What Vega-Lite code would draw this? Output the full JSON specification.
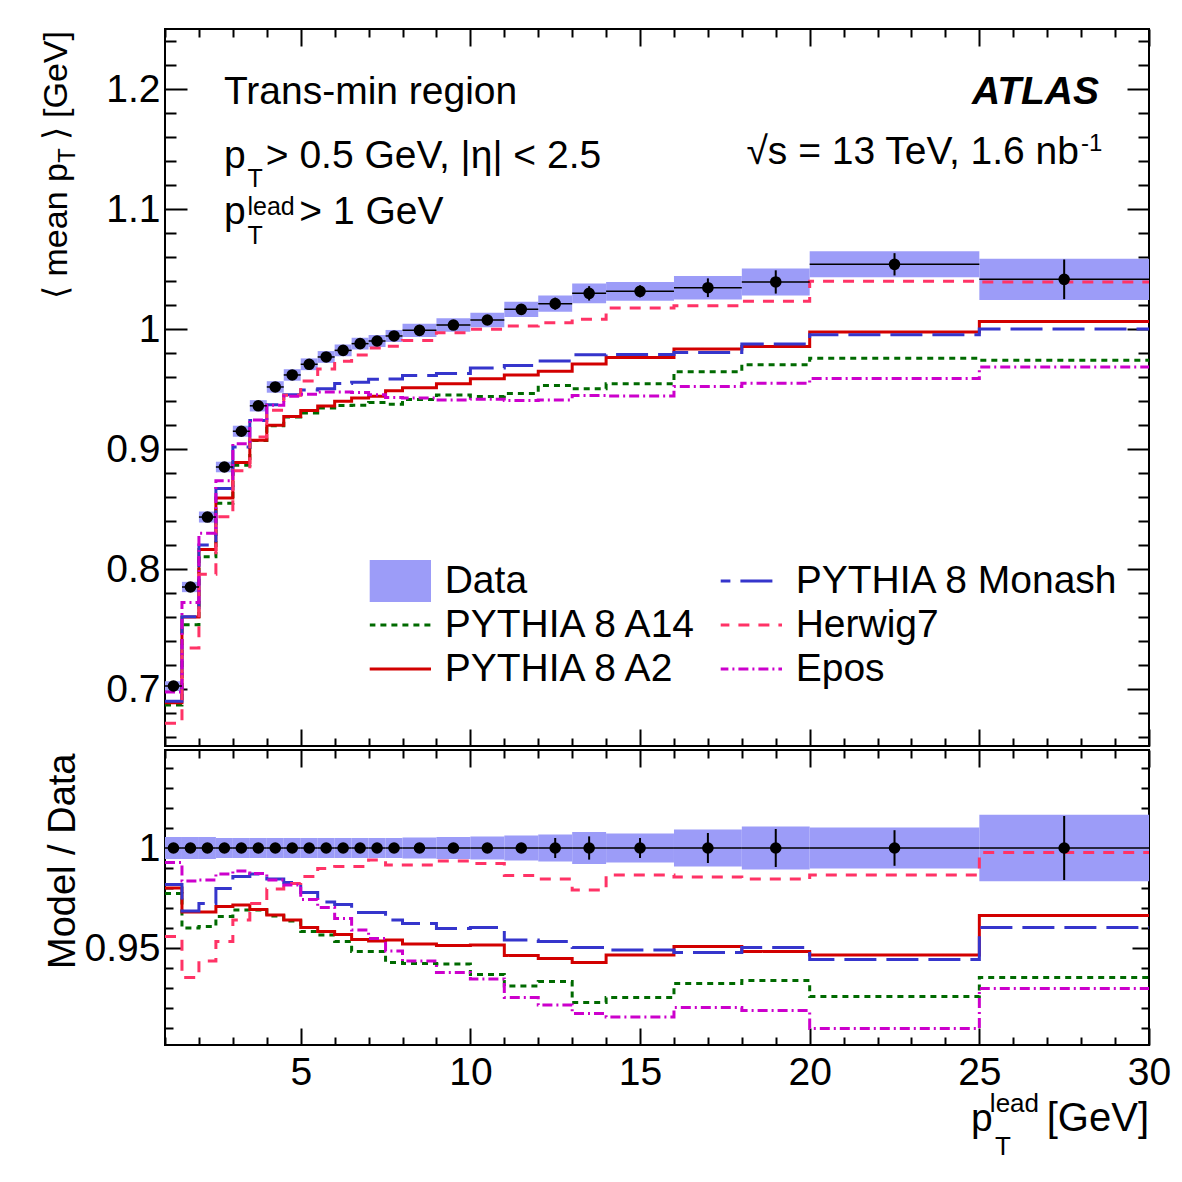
{
  "$schema": "https://vega.github.io/schema/vega-lite/v6.json",
  "background": "white",
  "padding": {"left": 38, "top": 27, "right": 5, "bottom": 5},
  "spacing": 0,
  "config": {
    "font": "Liberation Sans",
    "view": {"stroke": "black", "strokeWidth": 2},
    "axis": {
      "labelFont": "Liberation Sans", "labelFontSize": 39, "labelColor": "black",
      "tickColor": "black", "tickWidth": 2, "domain": false, "grid": false,
      "labelOverlap": false, "labelFlush": false, "labelBound": false,
      "titleFont": "Liberation Sans", "titleFontSize": 38, "titleFontWeight": "normal", "titleColor": "black"
    },
    "text": {"color": "black", "font": "Liberation Sans"}
  },
  "datasets": {
    "bins": [
      {"lo":1,"hi":1.5,"x":1.25,"v":0.7025,"blo":0.6985,"bhi":0.7065,"st":0.001,"r":1,"rblo":0.9945,"rbhi":1.0055,"rst":0.001,"a14":0.6866,"a2":0.6885,"mon":0.6897,"hw":0.6714,"epos":0.6974,"ra14":0.9773,"ra2":0.980,"rmon":0.9818,"rhw":0.9557,"repos":0.9928},
      {"lo":1.5,"hi":2,"x":1.75,"v":0.785,"blo":0.7807,"bhi":0.7893,"st":0.001,"r":1,"rblo":0.9945,"rbhi":1.0055,"rst":0.001,"a14":0.7536,"a2":0.7599,"mon":0.7603,"hw":0.7342,"epos":0.7720,"ra14":0.960,"ra2":0.968,"rmon":0.9685,"rhw":0.9353,"repos":0.9835},
      {"lo":2,"hi":2.5,"x":2.25,"v":0.8433,"blo":0.8387,"bhi":0.8479,"st":0.001,"r":1,"rblo":0.9945,"rbhi":1.0055,"rst":0.001,"a14":0.8102,"a2":0.8163,"mon":0.8199,"hw":0.7957,"epos":0.8298,"ra14":0.9608,"ra2":0.968,"rmon":0.9723,"rhw":0.9435,"repos":0.984},
      {"lo":2.5,"hi":3,"x":2.75,"v":0.885,"blo":0.8806,"bhi":0.8894,"st":0.001,"r":1,"rblo":0.995,"rbhi":1.005,"rst":0.001,"a14":0.8547,"a2":0.8591,"mon":0.8671,"hw":0.8436,"epos":0.8735,"ra14":0.9658,"ra2":0.9707,"rmon":0.9798,"rhw":0.9532,"repos":0.987},
      {"lo":3,"hi":3.5,"x":3.25,"v":0.9148,"blo":0.9102,"bhi":0.9194,"st":0.001,"r":1,"rblo":0.995,"rbhi":1.005,"rst":0.001,"a14":0.8864,"a2":0.8887,"mon":0.9017,"hw":0.8819,"epos":0.9043,"ra14":0.969,"ra2":0.9715,"rmon":0.9857,"rhw":0.964,"repos":0.9885},
      {"lo":3.5,"hi":4,"x":3.75,"v":0.936,"blo":0.9313,"bhi":0.9407,"st":0.001,"r":1,"rblo":0.995,"rbhi":1.005,"rst":0.001,"a14":0.9070,"a2":0.9073,"mon":0.9238,"hw":0.9101,"epos":0.9241,"ra14":0.969,"ra2":0.9693,"rmon":0.987,"rhw":0.9723,"repos":0.9873},
      {"lo":4,"hi":4.5,"x":4.25,"v":0.9517,"blo":0.9469,"bhi":0.9565,"st":0.001,"r":1,"rblo":0.995,"rbhi":1.005,"rst":0.001,"a14":0.9193,"a2":0.9198,"mon":0.9369,"hw":0.9322,"epos":0.9365,"ra14":0.966,"ra2":0.9665,"rmon":0.9845,"rhw":0.9795,"repos":0.984},
      {"lo":4.5,"hi":5,"x":4.75,"v":0.9617,"blo":0.9569,"bhi":0.9665,"st":0.001,"r":1,"rblo":0.995,"rbhi":1.005,"rst":0.001,"a14":0.9266,"a2":0.9271,"mon":0.9452,"hw":0.9447,"epos":0.9439,"ra14":0.9635,"ra2":0.964,"rmon":0.9828,"rhw":0.9823,"repos":0.9815},
      {"lo":5,"hi":5.5,"x":5.25,"v":0.9706,"blo":0.9657,"bhi":0.9755,"st":0.001,"r":1,"rblo":0.995,"rbhi":1.005,"rst":0.001,"a14":0.9300,"a2":0.9320,"mon":0.9491,"hw":0.9567,"epos":0.9457,"ra14":0.9582,"ra2":0.9602,"rmon":0.9778,"rhw":0.9857,"repos":0.9743},
      {"lo":5.5,"hi":6,"x":5.75,"v":0.9767,"blo":0.9718,"bhi":0.9816,"st":0.001,"r":1,"rblo":0.995,"rbhi":1.005,"rst":0.001,"a14":0.9342,"a2":0.9359,"mon":0.9503,"hw":0.9667,"epos":0.9476,"ra14":0.9565,"ra2":0.9582,"rmon":0.973,"rhw":0.9898,"repos":0.9702},
      {"lo":6,"hi":6.5,"x":6.25,"v":0.9822,"blo":0.9773,"bhi":0.9871,"st":0.001,"r":1,"rblo":0.995,"rbhi":1.005,"rst":0.001,"a14":0.9362,"a2":0.9398,"mon":0.9545,"hw":0.9731,"epos":0.9476,"ra14":0.9532,"ra2":0.9568,"rmon":0.9718,"rhw":0.9907,"repos":0.9648},
      {"lo":6.5,"hi":7,"x":6.75,"v":0.9878,"blo":0.9829,"bhi":0.9927,"st":0.001,"r":1,"rblo":0.995,"rbhi":1.005,"rst":0.001,"a14":0.9364,"a2":0.9424,"mon":0.9557,"hw":0.9783,"epos":0.9470,"ra14":0.9482,"ra2":0.9543,"rmon":0.9678,"rhw":0.9907,"repos":0.959},
      {"lo":7,"hi":7.5,"x":7.25,"v":0.990,"blo":0.985,"bhi":0.995,"st":0.001,"r":1,"rblo":0.995,"rbhi":1.005,"rst":0.001,"a14":0.9387,"a2":0.9440,"mon":0.9581,"hw":0.9841,"epos":0.9453,"ra14":0.9482,"ra2":0.9535,"rmon":0.9678,"rhw":0.994,"repos":0.9548},
      {"lo":7.5,"hi":8,"x":7.75,"v":0.9942,"blo":0.9892,"bhi":0.9992,"st":0.001,"r":1,"rblo":0.995,"rbhi":1.005,"rst":0.001,"a14":0.9373,"a2":0.9485,"mon":0.9584,"hw":0.9857,"epos":0.9430,"ra14":0.9428,"ra2":0.954,"rmon":0.964,"rhw":0.9915,"repos":0.9485},
      {"lo":8,"hi":9,"x":8.5,"v":0.9989,"blo":0.9934,"bhi":1.0044,"st":0.001,"r":1,"rblo":0.9947,"rbhi":1.0053,"rst":0.001,"a14":0.9413,"a2":0.9510,"mon":0.9612,"hw":0.9904,"epos":0.9425,"ra14":0.9423,"ra2":0.952,"rmon":0.9623,"rhw":0.9915,"repos":0.9435},
      {"lo":9,"hi":10,"x":9.5,"v":1.0033,"blo":0.9977,"bhi":1.0089,"st":0.001,"r":1,"rblo":0.9945,"rbhi":1.0055,"rst":0.001,"a14":0.9451,"a2":0.9543,"mon":0.9630,"hw":0.9968,"epos":0.9408,"ra14":0.942,"ra2":0.9512,"rmon":0.9598,"rhw":0.9935,"repos":0.9377},
      {"lo":10,"hi":11,"x":10.5,"v":1.0075,"blo":1.0015,"bhi":1.0135,"st":0.0015,"r":1,"rblo":0.9942,"rbhi":1.0058,"rst":0.0015,"a14":0.9438,"a2":0.9586,"mon":0.9675,"hw":0.9997,"epos":0.9415,"ra14":0.9368,"ra2":0.9515,"rmon":0.9603,"rhw":0.9923,"repos":0.9345},
      {"lo":11,"hi":12,"x":11.5,"v":1.0164,"blo":1.0100,"bhi":1.0228,"st":0.0025,"r":1,"rblo":0.9937,"rbhi":1.0063,"rst":0.0025,"a14":0.9463,"a2":0.9617,"mon":0.9696,"hw":1.0024,"epos":0.9404,"ra14":0.931,"ra2":0.9462,"rmon":0.954,"rhw":0.9862,"repos":0.9252},
      {"lo":12,"hi":13,"x":12.5,"v":1.0211,"blo":1.0143,"bhi":1.0279,"st":0.005,"r":1,"rblo":0.9933,"rbhi":1.0067,"rst":0.005,"a14":0.9529,"a2":0.9647,"mon":0.9733,"hw":1.0053,"epos":0.9409,"ra14":0.9332,"ra2":0.9448,"rmon":0.9532,"rhw":0.9845,"repos":0.9215},
      {"lo":13,"hi":14,"x":13.5,"v":1.0297,"blo":1.0214,"bhi":1.0380,"st":0.006,"r":1,"rblo":0.992,"rbhi":1.008,"rst":0.0058,"a14":0.9502,"a2":0.9708,"mon":0.9785,"hw":1.0081,"epos":0.9445,"ra14":0.9228,"ra2":0.9428,"rmon":0.9503,"rhw":0.979,"repos":0.9173},
      {"lo":14,"hi":16,"x":15,"v":1.0314,"blo":1.0236,"bhi":1.0392,"st":0.005,"r":1,"rblo":0.9927,"rbhi":1.0073,"rst":0.005,"a14":0.9544,"a2":0.9762,"mon":0.9788,"hw":1.0175,"epos":0.9442,"ra14":0.9253,"ra2":0.9465,"rmon":0.949,"rhw":0.9865,"repos":0.9155},
      {"lo":16,"hi":18,"x":17,"v":1.0344,"blo":1.0246,"bhi":1.0442,"st":0.0078,"r":1,"rblo":0.9908,"rbhi":1.0092,"rst":0.0075,"a14":0.9644,"a2":0.9834,"mon":0.9804,"hw":1.0194,"epos":0.9520,"ra14":0.9323,"ra2":0.9507,"rmon":0.9478,"rhw":0.9855,"repos":0.9203},
      {"lo":18,"hi":20,"x":19,"v":1.0392,"blo":1.0280,"bhi":1.0504,"st":0.0097,"r":1,"rblo":0.9893,"rbhi":1.0107,"rst":0.0095,"a14":0.9703,"a2":0.9854,"mon":0.9874,"hw":1.0231,"epos":0.9547,"ra14":0.9337,"ra2":0.9482,"rmon":0.9502,"rhw":0.9845,"repos":0.9187},
      {"lo":20,"hi":25,"x":22.5,"v":1.0539,"blo":1.0431,"bhi":1.0647,"st":0.0093,"r":1,"rblo":0.9897,"rbhi":1.0103,"rst":0.0089,"a14":0.9756,"a2":0.9975,"mon":0.9952,"hw":1.0397,"epos":0.9588,"ra14":0.9257,"ra2":0.9465,"rmon":0.9443,"rhw":0.9865,"repos":0.9098},
      {"lo":25,"hi":30,"x":27.5,"v":1.0414,"blo":1.0242,"bhi":1.0586,"st":0.0165,"r":1,"rblo":0.9834,"rbhi":1.0166,"rst":0.016,"a14":0.9740,"a2":1.0062,"mon":1.0001,"hw":1.0391,"epos":0.9683,"ra14":0.9353,"ra2":0.9662,"rmon":0.9603,"rhw":0.9978,"repos":0.9298}
    ]
  },
  "resolve": {"scale": {"color": "independent", "strokeDash": "independent"}},
  "vconcat": [
    {
      "width": 984,
      "height": 717,
      "data": {"name": "bins"},
      "resolve": {"axis": {"x": "independent", "y": "independent"}},
      "layer": [
        {
          "mark": {"type": "rect", "color": "#9c9cf8"},
          "encoding": {
            "x": {"field": "lo", "type": "quantitative",
              "scale": {"domain": [1, 30], "nice": false, "zero": false},
              "axis": {"orient": "bottom", "title": null, "labels": false,
                "values": [1,2,3,4,5,6,7,8,9,10,11,12,13,14,15,16,17,18,19,20,21,22,23,24,25,26,27,28,29,30],
                "tickSize": {"condition": {"test": "datum.value % 5 === 0", "value": -17}, "value": -8}}},
            "x2": {"field": "hi"},
            "y": {"field": "blo", "type": "quantitative",
              "scale": {"domain": [0.6525, 1.25], "nice": false, "zero": false},
              "axis": {"orient": "left", "title": null,
                "values": [0.66,0.68,0.7,0.72,0.74,0.76,0.78,0.8,0.82,0.84,0.86,0.88,0.9,0.92,0.94,0.96,0.98,1,1.02,1.04,1.06,1.08,1.1,1.12,1.14,1.16,1.18,1.2,1.22,1.24],
                "tickSize": {"condition": {"test": "abs(datum.value*10 - round(datum.value*10)) < 0.001", "value": -22}, "value": -11},
                "labelFontSize": {"condition": {"test": "abs(datum.value*10 - round(datum.value*10)) < 0.001", "value": 39}, "value": 0},
                "labelPadding": 27,
                "labelExpr": "abs(datum.value*10 - round(datum.value*10)) < 0.001 ? format(datum.value, '.1~f') : ''"}},
            "y2": {"field": "bhi"}
          }
        },
        {
          "transform": [
            {"fold": ["a14", "a2", "mon", "hw", "epos"], "as": ["model", "val"]},
            {"fold": ["lo", "hi"], "as": ["edge", "xe"]}
          ],
          "mark": {"type": "line", "strokeWidth": 3},
          "encoding": {
            "x": {"field": "xe", "type": "quantitative", "axis": null},
            "y": {"field": "val", "type": "quantitative", "axis": null},
            "color": {"field": "model", "type": "nominal",
              "scale": {"domain": ["data", "a14", "a2", "mon", "hw", "epos"],
                        "range": ["#9c9cf8", "#006a00", "#d20000", "#3535cc", "#ff3366", "#cc00cc"]},
              "legend": {
                "orient": "none", "legendX": 204.7, "legendY": 530,
                "title": null, "columns": 2, "columnPadding": 22, "rowPadding": 0,
                "clipHeight": 44, "padding": 0, "offset": 0,
                "symbolType": "stroke", "symbolSize": 1936, "symbolStrokeWidth": 3,
                "labelFont": "Liberation Sans", "labelFontSize": 39, "labelColor": "black",
                "labelOffset": 36, "labelLimit": 0,
                "labelExpr": "{'data': 'Data', 'mon': 'PYTHIA 8 Monash', 'a14': 'PYTHIA 8 A14', 'hw': 'Herwig7', 'a2': 'PYTHIA 8 A2', 'epos': 'Epos'}[datum.value]",
                "encode": {
                  "symbols": {
                    "update": {
                      "shape": {"signal": "datum.value === 'data' ? 'M-1.9,-0.95H1.9V0.95H-1.9Z' : 'M-1.9,0H1.9'"},
                      "fill": {"signal": "datum.value === 'data' ? '#9c9cf8' : 'transparent'"},
                      "strokeWidth": {"signal": "datum.value === 'data' ? 0 : 3"}
                    }
                  }
                }
              }},
            "strokeDash": {"field": "model", "type": "nominal",
              "scale": {"domain": ["data", "a14", "a2", "mon", "hw", "epos"],
                        "range": [[1, 0], [6, 5], [1, 0], [32, 10], [11, 9], [10, 4, 2, 4]]}},
            "order": [{"field": "xe", "type": "quantitative"}, {"field": "edge", "type": "nominal"}]
          }
        },
        {
          "mark": {"type": "rule", "color": "black", "strokeWidth": 1.5},
          "encoding": {
            "x": {"field": "lo", "type": "quantitative",
              "axis": {"orient": "top", "title": null, "labels": false,
                "values": [1,2,3,4,5,6,7,8,9,10,11,12,13,14,15,16,17,18,19,20,21,22,23,24,25,26,27,28,29,30],
                "tickSize": {"condition": {"test": "datum.value % 5 === 0", "value": -17}, "value": -8}}},
            "x2": {"field": "hi"},
            "y": {"field": "v", "type": "quantitative",
              "axis": {"orient": "right", "title": null, "labels": false,
                "values": [0.66,0.68,0.7,0.72,0.74,0.76,0.78,0.8,0.82,0.84,0.86,0.88,0.9,0.92,0.94,0.96,0.98,1,1.02,1.04,1.06,1.08,1.1,1.12,1.14,1.16,1.18,1.2,1.22,1.24],
                "tickSize": {"condition": {"test": "abs(datum.value*10 - round(datum.value*10)) < 0.001", "value": -22}, "value": -11}}}
          }
        },
        {
          "mark": {"type": "errorbar", "ticks": false, "rule": {"strokeWidth": 2}},
          "encoding": {
            "x": {"field": "x", "type": "quantitative", "axis": null},
            "y": {"field": "v", "type": "quantitative", "axis": null},
            "yError": {"field": "st"},
            "color": {"value": "black"}
          }
        },
        {
          "mark": {"type": "circle", "size": 135, "color": "black", "opacity": 1},
          "encoding": {
            "x": {"field": "x", "type": "quantitative", "axis": null},
            "y": {"field": "v", "type": "quantitative", "axis": null}
          }
        },
        {
          "data": {"values": [{}]},
          "mark": {"type": "circle", "size": 100, "color": "black", "opacity": 1},
          "encoding": {
            "x": {"datum": 7.89, "axis": null},
            "y": {"datum": 0.79, "axis": null}
          }
        },
        {
          "data": {"values": [{}]},
          "mark": {"type": "text", "align": "left", "baseline": "alphabetic", "fontSize": 39},
          "encoding": {"x": {"datum": 2.7364, "axis": null}, "y": {"datum": 1.1873, "axis": null}, "text": {"value": "Trans-min region"}}
        },
        {
          "data": {"values": [{}]},
          "mark": {"type": "text", "align": "left", "baseline": "alphabetic", "fontSize": 39},
          "encoding": {"x": {"datum": 2.7364, "axis": null}, "y": {"datum": 1.1344, "axis": null}, "text": {"value": "p"}}
        },
        {
          "data": {"values": [{}]},
          "mark": {"type": "text", "align": "left", "baseline": "alphabetic", "fontSize": 25},
          "encoding": {"x": {"datum": 3.43, "axis": null}, "y": {"datum": 1.1183, "axis": null}, "text": {"value": "T"}}
        },
        {
          "data": {"values": [{}]},
          "mark": {"type": "text", "align": "left", "baseline": "alphabetic", "fontSize": 39},
          "encoding": {"x": {"datum": 3.97, "axis": null}, "y": {"datum": 1.1344, "axis": null}, "text": {"value": "> 0.5 GeV, |η| < 2.5"}}
        },
        {
          "data": {"values": [{}]},
          "mark": {"type": "text", "align": "left", "baseline": "alphabetic", "fontSize": 39},
          "encoding": {"x": {"datum": 2.7364, "axis": null}, "y": {"datum": 1.0873, "axis": null}, "text": {"value": "p"}}
        },
        {
          "data": {"values": [{}]},
          "mark": {"type": "text", "align": "left", "baseline": "alphabetic", "fontSize": 25},
          "encoding": {"x": {"datum": 3.43, "axis": null}, "y": {"datum": 1.095, "axis": null}, "text": {"value": "lead"}}
        },
        {
          "data": {"values": [{}]},
          "mark": {"type": "text", "align": "left", "baseline": "alphabetic", "fontSize": 25},
          "encoding": {"x": {"datum": 3.43, "axis": null}, "y": {"datum": 1.0708, "axis": null}, "text": {"value": "T"}}
        },
        {
          "data": {"values": [{}]},
          "mark": {"type": "text", "align": "left", "baseline": "alphabetic", "fontSize": 39},
          "encoding": {"x": {"datum": 4.96, "axis": null}, "y": {"datum": 1.0873, "axis": null}, "text": {"value": "> 1 GeV"}}
        },
        {
          "data": {"values": [{}]},
          "mark": {"type": "text", "align": "right", "baseline": "alphabetic", "fontSize": 39, "fontWeight": "bold", "fontStyle": "italic"},
          "encoding": {"x": {"datum": 28.526, "axis": null}, "y": {"datum": 1.1873, "axis": null}, "text": {"value": "ATLAS"}}
        },
        {
          "data": {"values": [{}]},
          "mark": {"type": "text", "align": "right", "baseline": "alphabetic", "fontSize": 39},
          "encoding": {"x": {"datum": 27.937, "axis": null}, "y": {"datum": 1.1373, "axis": null}, "text": {"value": "√s = 13 TeV, 1.6 nb"}}
        },
        {
          "data": {"values": [{}]},
          "mark": {"type": "text", "align": "left", "baseline": "alphabetic", "fontSize": 24},
          "encoding": {"x": {"datum": 27.996, "axis": null}, "y": {"datum": 1.1483, "axis": null}, "text": {"value": "-1"}}
        },
        {
          "data": {"values": [{}]},
          "mark": {"type": "text", "align": "right", "baseline": "alphabetic", "fontSize": 34, "angle": 270},
          "encoding": {"x": {"datum": -1.898, "axis": null}, "y": {"datum": 1.2483, "axis": null}, "text": {"value": " ⟩ [GeV]"}}
        },
        {
          "data": {"values": [{}]},
          "mark": {"type": "text", "align": "right", "baseline": "alphabetic", "fontSize": 24, "angle": 270},
          "encoding": {"x": {"datum": -1.662, "axis": null}, "y": {"datum": 1.1508, "axis": null}, "text": {"value": "T"}}
        },
        {
          "data": {"values": [{}]},
          "mark": {"type": "text", "align": "right", "baseline": "alphabetic", "fontSize": 34, "angle": 270},
          "encoding": {"x": {"datum": -1.898, "axis": null}, "y": {"datum": 1.1383, "axis": null}, "text": {"value": "⟨ mean p"}}
        }
      ]
    },
    {
      "width": 984,
      "height": 295,
      "data": {"name": "bins"},
      "resolve": {"axis": {"x": "independent", "y": "independent"}},
      "layer": [
        {
          "mark": {"type": "rect", "color": "#9c9cf8"},
          "encoding": {
            "x": {"field": "lo", "type": "quantitative",
              "scale": {"domain": [1, 30], "nice": false, "zero": false},
              "axis": {"orient": "bottom", "title": null,
                "values": [1,2,3,4,5,6,7,8,9,10,11,12,13,14,15,16,17,18,19,20,21,22,23,24,25,26,27,28,29,30],
                "tickSize": {"condition": {"test": "datum.value % 5 === 0", "value": -17}, "value": -8},
                "labelFontSize": {"condition": {"test": "datum.value % 5 === 0", "value": 39}, "value": 0},
                "labelPadding": 25,
                "labelExpr": "datum.value % 5 === 0 ? datum.label : ''"}},
            "x2": {"field": "hi"},
            "y": {"field": "rblo", "type": "quantitative",
              "scale": {"domain": [0.9015, 1.049], "nice": false, "zero": false},
              "axis": {"orient": "left", "title": "Model / Data",
                "titleX": -91, "titleY": 3, "titleAngle": 270, "titleAlign": "right", "titleBaseline": "alphabetic",
                "values": [0.91,0.92,0.93,0.94,0.95,0.96,0.97,0.98,0.99,1,1.01,1.02,1.03,1.04],
                "tickSize": {"condition": {"test": "abs(datum.value*20 - round(datum.value*20)) < 0.001", "value": -17}, "value": -8},
                "labelFontSize": {"condition": {"test": "abs(datum.value*20 - round(datum.value*20)) < 0.001", "value": 39}, "value": 0},
                "labelPadding": 22,
                "labelExpr": "abs(datum.value*20 - round(datum.value*20)) < 0.001 ? format(datum.value, '.2~f') : ''"}},
            "y2": {"field": "rbhi"}
          }
        },
        {
          "transform": [
            {"fold": ["ra14", "ra2", "rmon", "rhw", "repos"], "as": ["model", "val"]},
            {"fold": ["lo", "hi"], "as": ["edge", "xe"]}
          ],
          "mark": {"type": "line", "strokeWidth": 3},
          "encoding": {
            "x": {"field": "xe", "type": "quantitative", "axis": null},
            "y": {"field": "val", "type": "quantitative", "axis": null},
            "color": {"field": "model", "type": "nominal", "legend": null,
              "scale": {"domain": ["rmon", "ra14", "rhw", "ra2", "repos"],
                        "range": ["#3535cc", "#006a00", "#ff3366", "#d20000", "#cc00cc"]}},
            "strokeDash": {"field": "model", "type": "nominal", "legend": null,
              "scale": {"domain": ["rmon", "ra14", "rhw", "ra2", "repos"],
                        "range": [[32, 10], [6, 5], [11, 9], [1, 0], [10, 4, 2, 4]]}},
            "order": [{"field": "xe", "type": "quantitative"}, {"field": "edge", "type": "nominal"}]
          }
        },
        {
          "mark": {"type": "rule", "color": "black", "strokeWidth": 1.5},
          "encoding": {
            "x": {"field": "lo", "type": "quantitative",
              "axis": {"orient": "top", "title": null, "labels": false,
                "values": [1,2,3,4,5,6,7,8,9,10,11,12,13,14,15,16,17,18,19,20,21,22,23,24,25,26,27,28,29,30],
                "tickSize": {"condition": {"test": "datum.value % 5 === 0", "value": -17}, "value": -8}}},
            "x2": {"field": "hi"},
            "y": {"field": "r", "type": "quantitative",
              "axis": {"orient": "right", "title": null, "labels": false,
                "values": [0.91,0.92,0.93,0.94,0.95,0.96,0.97,0.98,0.99,1,1.01,1.02,1.03,1.04],
                "tickSize": {"condition": {"test": "abs(datum.value*20 - round(datum.value*20)) < 0.001", "value": -17}, "value": -8}}}
          }
        },
        {
          "mark": {"type": "errorbar", "ticks": false, "rule": {"strokeWidth": 2}},
          "encoding": {
            "x": {"field": "x", "type": "quantitative", "axis": null},
            "y": {"field": "r", "type": "quantitative", "axis": null},
            "yError": {"field": "rst"},
            "color": {"value": "black"}
          }
        },
        {
          "mark": {"type": "circle", "size": 135, "color": "black", "opacity": 1},
          "encoding": {
            "x": {"field": "x", "type": "quantitative", "axis": null},
            "y": {"field": "r", "type": "quantitative", "axis": null}
          }
        },
        {
          "data": {"values": [{}]},
          "mark": {"type": "text", "align": "left", "baseline": "alphabetic", "fontSize": 39},
          "encoding": {"x": {"datum": 24.755, "axis": null}, "y": {"datum": 0.8585, "axis": null}, "text": {"value": "p"}}
        },
        {
          "data": {"values": [{}]},
          "mark": {"type": "text", "align": "left", "baseline": "alphabetic", "fontSize": 26},
          "encoding": {"x": {"datum": 25.31, "axis": null}, "y": {"datum": 0.8682, "axis": null}, "text": {"value": "lead"}}
        },
        {
          "data": {"values": [{}]},
          "mark": {"type": "text", "align": "left", "baseline": "alphabetic", "fontSize": 26},
          "encoding": {"x": {"datum": 25.46, "axis": null}, "y": {"datum": 0.8465, "axis": null}, "text": {"value": "T"}}
        },
        {
          "data": {"values": [{}]},
          "mark": {"type": "text", "align": "right", "baseline": "alphabetic", "fontSize": 40},
          "encoding": {"x": {"datum": 30, "axis": null}, "y": {"datum": 0.8585, "axis": null}, "text": {"value": "[GeV]"}}
        }
      ]
    }
  ]
}
